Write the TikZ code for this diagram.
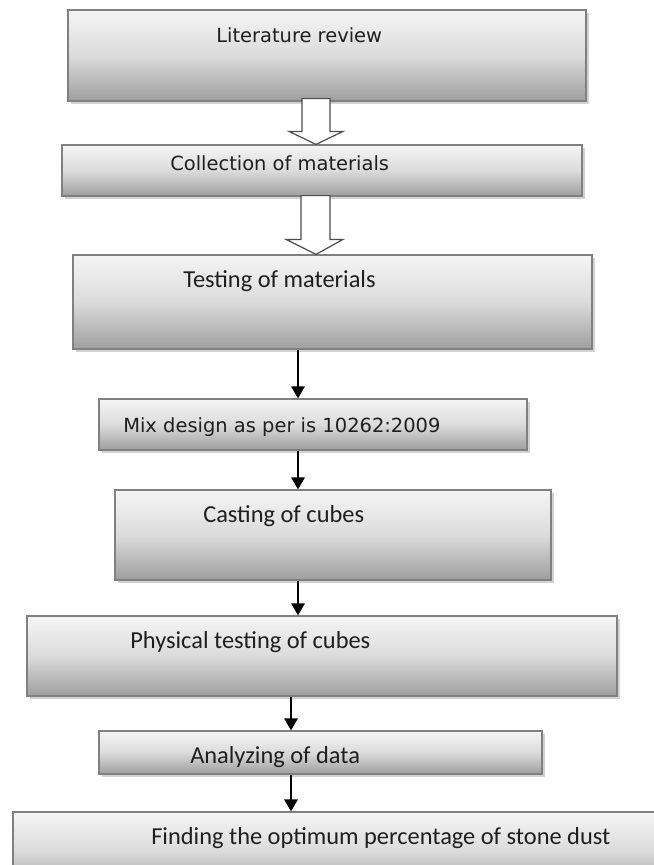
\documentclass[tikz,border=0pt]{standalone}
\usepackage{fontspec}
\newfontfamily\dvfont{DejaVu Sans}
\newfontfamily\cbfont{Carlito}
\usepackage{tikz}
\usetikzlibrary{arrows.meta,calc,fit,shadows}

\begin{document}
\begin{tikzpicture}[
    x=0.75pt, y=-0.75pt,
    box/.style={draw=black!50, line width=0.9pt, inner sep=0pt, top color=white!96!black, bottom color=black!38, middle color=black!14, drop shadow={shadow xshift=2pt, shadow yshift=-2pt, fill=black!35, opacity=0.5}},
    vtext/.style={anchor=base west, inner sep=0pt, font=\dvfont\fontsize{14.6}{17}\selectfont, text=black!88},
    ctext/.style={anchor=base west, inner sep=0pt, font=\cbfont\fontsize{18.3}{22}\selectfont, text=black!88},
    arrow/.style={-{Triangle[length=9pt, width=10pt]}, line width=1.5pt},
    hollow/.style={draw=black!70, fill=white, line width=0.9pt, line join=miter}
]
\useasboundingbox (0,0) rectangle (654,865);
% boxes
\node[box, fit={(68,10) (586,101)}] (lit) {};
\node[box, fit={(62,145) (582,196)}] (coll) {};
\node[box, fit={(73,255) (592,349)}] (test) {};
\node[box, fit={(99,399) (527,450)}] (mix) {};
\node[box, fit={(115,490) (551,580)}] (cast) {};
\node[box, fit={(27,616) (617,696)}] (phys) {};
\node[box, fit={(99,731) (542,774)}] (anal) {};
\node[box, fit={(13,812) (680,890)}] (find) {};
% labels
\node[vtext] (lit-t) at (216,42) {Literature review};
\node[vtext] (coll-t) at (170,170) {Collection of materials};
\node[ctext] (test-t) at (183,287) {Testing of materials};
\node[vtext] (mix-t) at (123,432) {Mix design as per is 10262:2009};
\node[ctext] (cast-t) at (203,522) {Casting of cubes};
\node[ctext] (phys-t) at (130,648) {Physical testing of cubes};
\node[ctext] (anal-t) at (190,763) {Analyzing of data};
\node[ctext] (find-t) at (151,844) {Finding the optimum percentage of stone dust};
% arrow columns
\coordinate (colH) at (316,0);
\coordinate (colA) at (298,0);
\coordinate (colB) at (291,0);
% hollow arrows
\draw[hollow] ($(lit.south -| colH)+(-14,-3)$) -- ($(lit.south -| colH)+(14,-3)$)
    -- ($(coll.north -| colH)+(14,-13)$) -- ($(coll.north -| colH)+(27,-13)$)
    -- (coll.north -| colH) -- ($(coll.north -| colH)+(-27,-13)$)
    -- ($(coll.north -| colH)+(-14,-13)$) -- cycle;
\draw[hollow] ($(coll.south -| colH)+(-15,-1)$) -- ($(coll.south -| colH)+(14,-1)$)
    -- ($(test.north -| colH)+(14,-15)$) -- ($(test.north -| colH)+(27,-15)$)
    -- (test.north -| colH) -- ($(test.north -| colH)+(-30,-15)$)
    -- ($(test.north -| colH)+(-15,-15)$) -- cycle;
% solid arrows
\draw[arrow] (test.south -| colA) -- (mix.north -| colA);
\draw[arrow] (mix.south -| colA) -- (cast.north -| colA);
\draw[arrow] (cast.south -| colA) -- (phys.north -| colA);
\draw[arrow] (phys.south -| colB) -- (anal.north -| colB);
\draw[arrow] (anal.south -| colB) -- (find.north -| colB);
\end{tikzpicture}
\end{document}
